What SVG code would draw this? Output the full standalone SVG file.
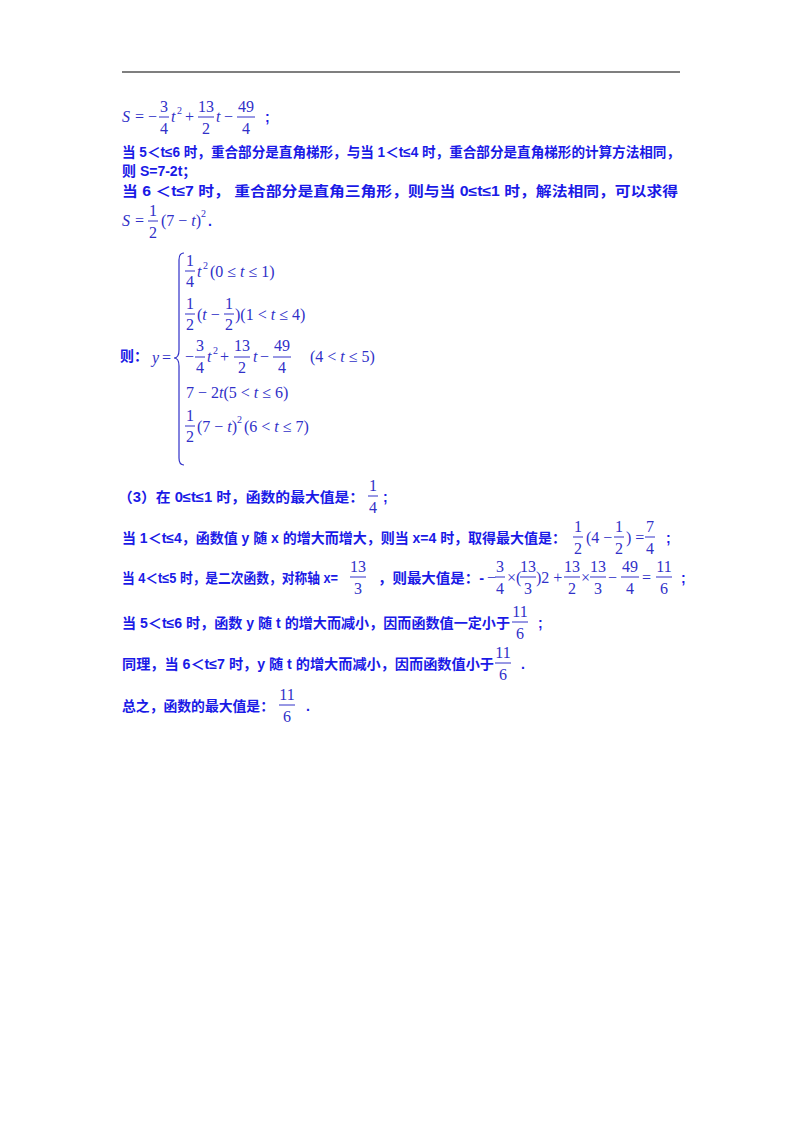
<svg xmlns="http://www.w3.org/2000/svg" width="800" height="1132" viewBox="0 0 800 1132">
<style>
.t{font-family:"Liberation Sans","Noto Sans CJK SC",sans-serif;font-weight:bold;font-size:14px;fill:#1a1ae6}
.m{font-family:"Liberation Serif",serif;font-size:16px;fill:#3030c8}
.i{font-style:italic}
.c{text-anchor:middle}
.s{font-size:10px}
.b{stroke:#3030c8;stroke-width:1}
</style>
<rect width="800" height="1132" fill="#fff"/>
<line x1="122" y1="72" x2="680" y2="72" stroke="#000" stroke-width="1.2"/>
<g id="line1">
<text class="m i" x="122" y="122">S</text><text class="m" x="135" y="122">=</text><text class="m" x="148" y="122">−</text>
<text class="m c" x="164" y="112">3</text><line class="b" x1="159" y1="117" x2="169" y2="117"/><text class="m c" x="164" y="134">4</text>
<text class="m i" x="171" y="122">t</text><text class="m s" x="177" y="114">2</text>
<text class="m" x="185" y="122">+</text>
<text class="m c" x="206" y="112">13</text><line class="b" x1="198" y1="117" x2="214" y2="117"/><text class="m c" x="206" y="134">2</text>
<text class="m i" x="216" y="122">t</text><text class="m" x="224" y="122">−</text>
<text class="m c" x="246" y="112">49</text><line class="b" x1="237" y1="117" x2="255" y2="117"/><text class="m c" x="246" y="134">4</text>
<text class="t" x="265" y="122">;</text>
</g>
<text class="t" x="122" y="157" textLength="558" lengthAdjust="spacingAndGlyphs">当 5＜t≤6 时，重合部分是直角梯形，与当 1＜t≤4 时，重合部分是直角梯形的计算方法相同，</text>
<text class="t" x="122" y="176">则 S=7-2t；</text>
<text class="t" x="122" y="196" textLength="556" lengthAdjust="spacingAndGlyphs">当 6 ＜t≤7 时， 重合部分是直角三角形，则与当 0≤t≤1 时，解法相同，可以求得</text>
<g id="line5">
<text class="m i" x="122" y="226">S</text><text class="m" x="135" y="226">=</text>
<text class="m c" x="153" y="216">1</text><line class="b" x1="148" y1="221" x2="158" y2="221"/><text class="m c" x="153" y="238">2</text>
<text class="m" x="161" y="226">(7 − <tspan class="i">t</tspan>)</text><text class="m s" x="201" y="217">2</text><text class="t" x="208" y="226">.</text>
</g>
<g id="piecewise">
<text class="t" x="120" y="361">则：</text>
<text class="m i" x="152" y="363">y</text><text class="m" x="162" y="363">=</text>
<path d="M184,253 Q179,253 179,260 L179,350 Q179,358 174,358 Q179,358 179,366 L179,458 Q179,465 184,465" fill="none" stroke="#3030c8" stroke-width="1.2"/>
<text class="m c" x="190" y="266">1</text><line class="b" x1="185" y1="271" x2="195" y2="271"/><text class="m c" x="190" y="287">4</text>
<text class="m i" x="197" y="277">t</text><text class="m s" x="203" y="269">2</text><text class="m" x="210" y="277">(0 ≤ <tspan class="i">t</tspan> ≤ 1)</text>
<text class="m c" x="190" y="309">1</text><line class="b" x1="185" y1="314" x2="195" y2="314"/><text class="m c" x="190" y="330">2</text>
<text class="m" x="197" y="320">(<tspan class="i">t</tspan> −</text>
<text class="m c" x="229" y="309">1</text><line class="b" x1="224" y1="314" x2="234" y2="314"/><text class="m c" x="229" y="330">2</text>
<text class="m" x="235" y="320">)(1 &lt; <tspan class="i">t</tspan> ≤ 4)</text>
<text class="m" x="185" y="362">−</text>
<text class="m c" x="200" y="351">3</text><line class="b" x1="195" y1="357" x2="205" y2="357"/><text class="m c" x="200" y="373">4</text>
<text class="m i" x="207" y="362">t</text><text class="m s" x="213" y="354">2</text>
<text class="m" x="220" y="362">+</text>
<text class="m c" x="242" y="351">13</text><line class="b" x1="234" y1="357" x2="250" y2="357"/><text class="m c" x="242" y="373">2</text>
<text class="m i" x="253" y="362">t</text><text class="m" x="260" y="362">−</text>
<text class="m c" x="282" y="351">49</text><line class="b" x1="273" y1="357" x2="291" y2="357"/><text class="m c" x="282" y="373">4</text>
<text class="m" x="310" y="362">(4 &lt; <tspan class="i">t</tspan> ≤ 5)</text>
<text class="m" x="186" y="398">7 − 2<tspan class="i">t</tspan>(5 &lt; <tspan class="i">t</tspan> ≤ 6)</text>
<text class="m c" x="190" y="421">1</text><line class="b" x1="185" y1="426" x2="195" y2="426"/><text class="m c" x="190" y="442">2</text>
<text class="m" x="197" y="432">(7 − <tspan class="i">t</tspan>)</text><text class="m s" x="237" y="423">2</text><text class="m" x="244" y="432">(6 &lt; <tspan class="i">t</tspan> ≤ 7)</text>
</g>
<g id="part3">
<text class="t" x="118" y="502" textLength="246" lengthAdjust="spacingAndGlyphs">（3）在 0≤t≤1 时，函数的最大值是：</text>
<text class="m c" x="373" y="491">1</text><line class="b" x1="368" y1="496" x2="378" y2="496"/><text class="m c" x="373" y="513">4</text><text class="t" x="383" y="502">;</text>

<text class="t" x="122" y="543" textLength="444" lengthAdjust="spacingAndGlyphs">当 1＜t≤4，函数值 y 随 x 的增大而增大，则当 x=4 时，取得最大值是：</text>
<text class="m c" x="578" y="532">1</text><line class="b" x1="573" y1="537" x2="583" y2="537"/><text class="m c" x="578" y="554">2</text>
<text class="m" x="586" y="543">(4 −</text>
<text class="m c" x="619" y="532">1</text><line class="b" x1="614" y1="537" x2="624" y2="537"/><text class="m c" x="619" y="554">2</text>
<text class="m" x="626" y="543">) =</text>
<text class="m c" x="650" y="532">7</text><line class="b" x1="645" y1="537" x2="655" y2="537"/><text class="m c" x="650" y="554">4</text>
<text class="t" x="666" y="543">;</text>

<text class="t" x="122" y="583" textLength="216" lengthAdjust="spacingAndGlyphs">当 4＜t≤5 时，是二次函数，对称轴 x=</text>
<text class="m c" x="358" y="572">13</text><line class="b" x1="350" y1="577" x2="366" y2="577"/><text class="m c" x="358" y="594">3</text>
<text class="t" x="378" y="583" textLength="106" lengthAdjust="spacingAndGlyphs">，则最大值是：-</text>
<text class="m" x="487" y="583">−</text>
<text class="m c" x="500" y="572">3</text><line class="b" x1="495" y1="577" x2="505" y2="577"/><text class="m c" x="500" y="594">4</text>
<text class="m" x="507" y="583">×(</text>
<text class="m c" x="528" y="572">13</text><line class="b" x1="520" y1="577" x2="536" y2="577"/><text class="m c" x="528" y="594">3</text>
<text class="m" x="536" y="583">)2 +</text>
<text class="m c" x="572" y="572">13</text><line class="b" x1="564" y1="577" x2="580" y2="577"/><text class="m c" x="572" y="594">2</text>
<text class="m" x="581" y="583">×</text>
<text class="m c" x="598" y="572">13</text><line class="b" x1="590" y1="577" x2="606" y2="577"/><text class="m c" x="598" y="594">3</text>
<text class="m" x="608" y="583">−</text>
<text class="m c" x="630" y="572">49</text><line class="b" x1="621" y1="577" x2="639" y2="577"/><text class="m c" x="630" y="594">4</text>
<text class="m" x="642" y="583">=</text>
<text class="m c" x="664" y="572">11</text><line class="b" x1="656" y1="577" x2="672" y2="577"/><text class="m c" x="664" y="594">6</text>
<text class="t" x="681" y="583">;</text>

<text class="t" x="122" y="628" textLength="388" lengthAdjust="spacingAndGlyphs">当 5＜t≤6 时，函数 y 随 t 的增大而减小，因而函数值一定小于</text>
<text class="m c" x="520" y="617">11</text><line class="b" x1="512" y1="622" x2="528" y2="622"/><text class="m c" x="520" y="639">6</text>
<text class="t" x="538" y="628">;</text>

<text class="t" x="122" y="669" textLength="372" lengthAdjust="spacingAndGlyphs">同理，当 6＜t≤7 时，y 随 t 的增大而减小，因而函数值小于</text>
<text class="m c" x="503" y="658">11</text><line class="b" x1="495" y1="663" x2="511" y2="663"/><text class="m c" x="503" y="680">6</text>
<text class="t" x="521" y="669">.</text>

<text class="t" x="122" y="711" textLength="152" lengthAdjust="spacingAndGlyphs">总之，函数的最大值是：</text>
<text class="m c" x="287" y="700">11</text><line class="b" x1="279" y1="705" x2="295" y2="705"/><text class="m c" x="287" y="722">6</text>
<text class="t" x="306" y="711">.</text>
</g>
</svg>
